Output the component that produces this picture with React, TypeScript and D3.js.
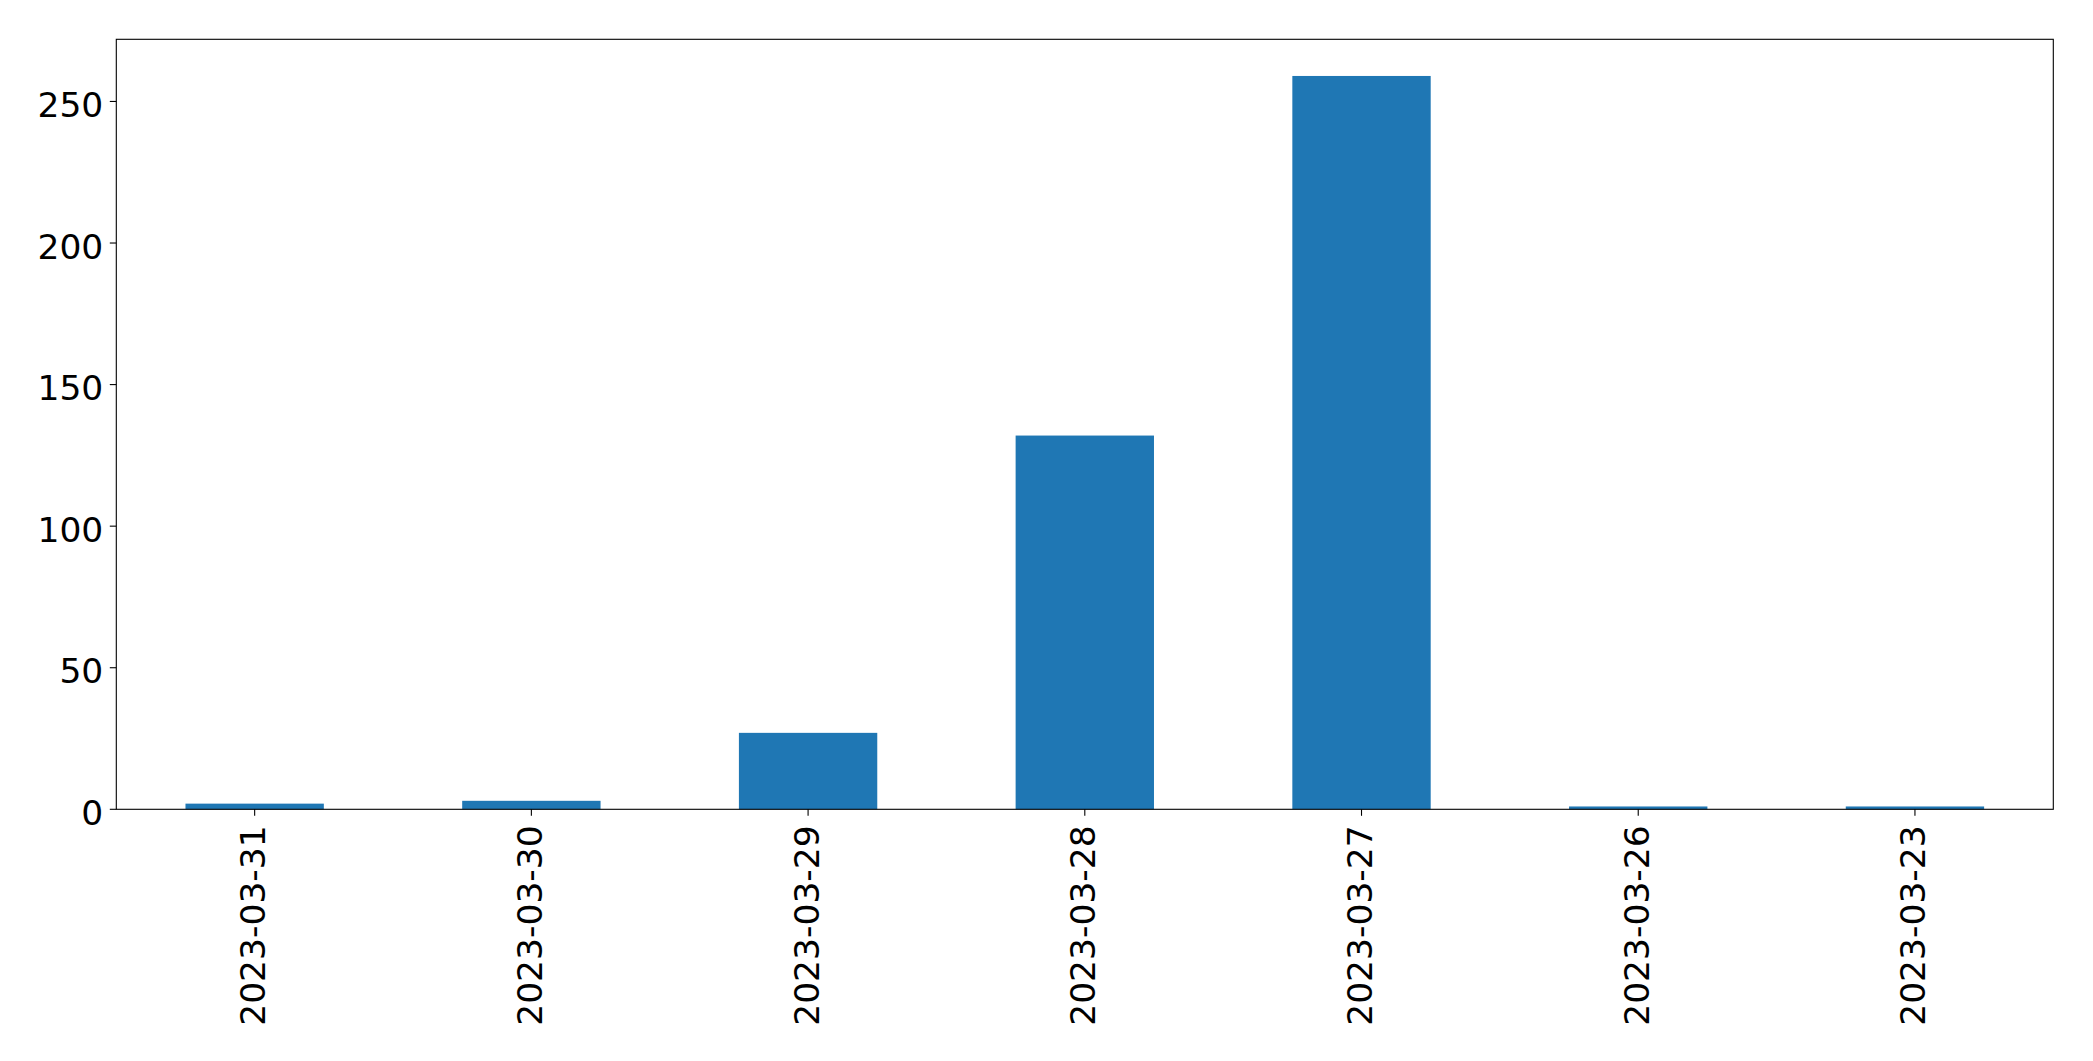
import React from "react";
import * as d3 from "d3";

const categories = ["2023-03-31", "2023-03-30", "2023-03-29", "2023-03-28", "2023-03-27", "2023-03-26", "2023-03-23"];
const values = [2, 3, 27, 132, 259, 1, 1];
const yTicks = [0, 50, 100, 150, 200, 250];

const W = 2093;
const H = 1061;
const left = 116.3;
const right = 2053.3;
const top = 39.3;
const bottom = 809.3;
const FONT = "'DejaVu Sans', sans-serif";
const FS = 34.5;

export default function App() {
  const x = d3.scaleBand<string>().domain(categories).range([left, right]).paddingInner(0.5).paddingOuter(0.25);
  const yMax = d3.max(values)! * 1.05;
  const y = d3.scaleLinear().domain([0, yMax]).range([bottom, top]);
  const tick = 6.5;
  const pad = 6.5;
  return (
    <svg width={W} height={H} style={{ position: "absolute", left: 0, top: 0, background: "#fff" }}>
      <rect x={0} y={0} width={W} height={H} fill="#fff" />
      {categories.map((c, i) => (
        <rect key={c} x={x(c)} y={y(values[i])} width={x.bandwidth()} height={bottom - y(values[i])} fill="#1f77b4" />
      ))}
      <rect x={left} y={top} width={right - left} height={bottom - top} fill="none" stroke="#000" strokeWidth={1.1} />
      {yTicks.map((t) => (
        <g key={t}>
          <line x1={left - tick} x2={left} y1={y(t)} y2={y(t)} stroke="#000" strokeWidth={1.1} />
          <text x={left - tick - pad} y={y(t)} dy={15.5} textAnchor="end" fontFamily={FONT} fontSize={FS} fill="#000">
            {t}
          </text>
        </g>
      ))}
      {categories.map((c) => {
        const cx = x(c)! + x.bandwidth() / 2;
        const ty = bottom + tick + pad + 3;
        return (
          <g key={c}>
            <line x1={cx} x2={cx} y1={bottom} y2={bottom + tick} stroke="#000" strokeWidth={1.1} />
            <text
              transform={`translate(${cx + 10.5},${ty}) rotate(-90)`}
              textAnchor="end"
              fontFamily={FONT}
              fontSize={FS}
              fill="#000"
            >
              {c}
            </text>
          </g>
        );
      })}
    </svg>
  );
}
